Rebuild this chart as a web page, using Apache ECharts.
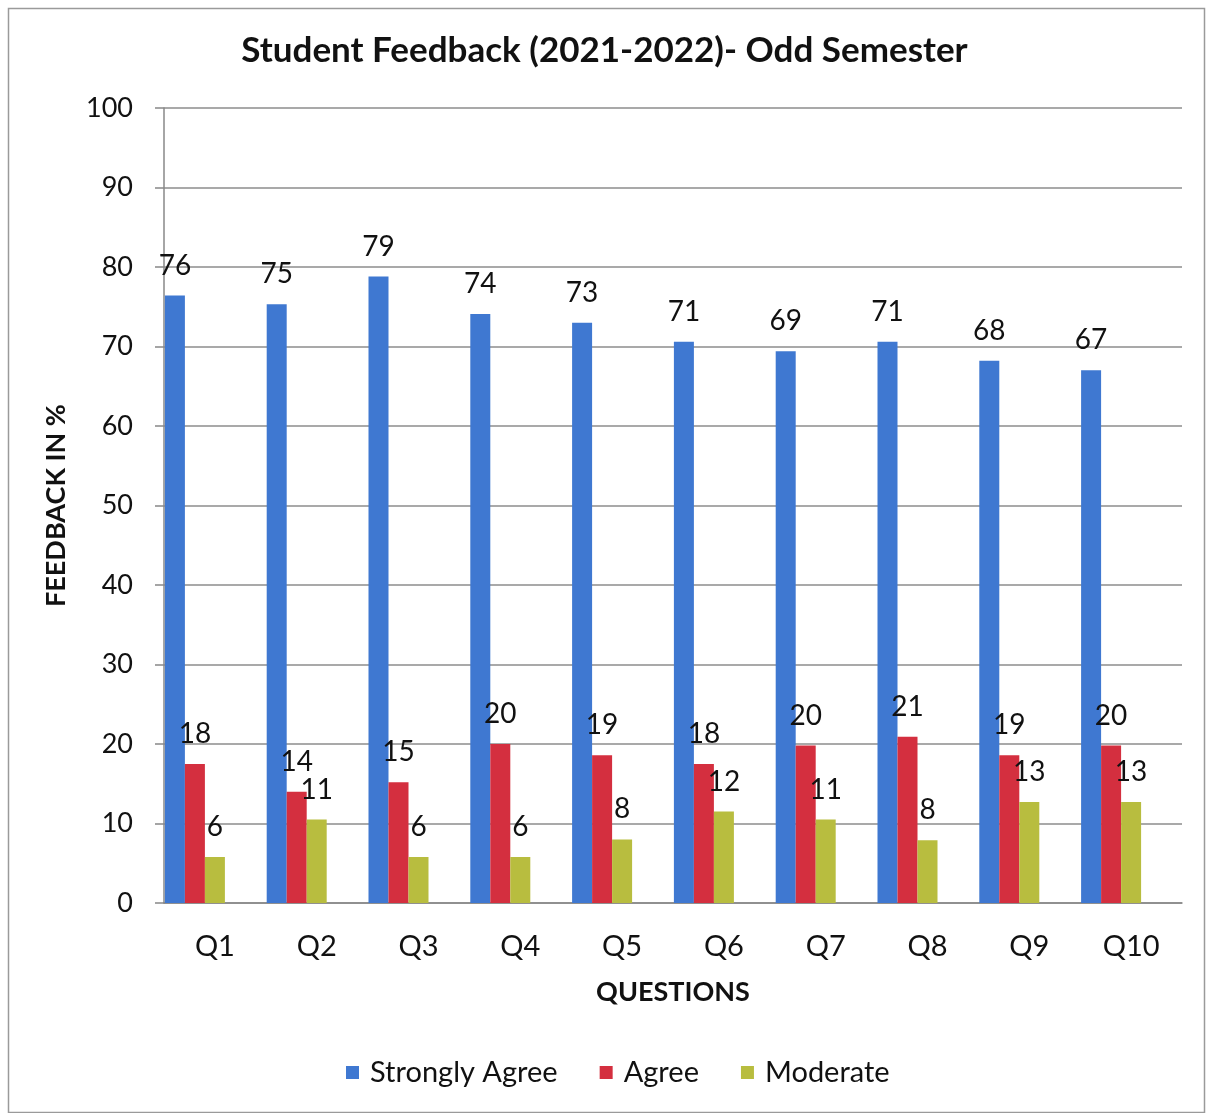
<!DOCTYPE html>
<html>
<head>
<meta charset="utf-8">
<script src="https://cdn.jsdelivr.net/npm/echarts@6/dist/echarts.min.js"></script>
<style>
html,body{margin:0;padding:0;background:#fff;}
#chart{width:1209px;height:1113px;}
</style>
</head>
<body>
<div id="chart"></div>
<script>
var categories = ['Q1','Q2','Q3','Q4','Q5','Q6','Q7','Q8','Q9','Q10'];
var stronglyAgree = [76.4, 75.3, 78.8, 74.1, 73.0, 70.6, 69.4, 70.6, 68.2, 67.0];
var agree = [17.5, 14.0, 15.2, 20.0, 18.6, 17.5, 19.8, 20.9, 18.6, 19.8];
var moderate = [5.8, 10.5, 5.8, 5.8, 8.0, 11.5, 10.5, 7.9, 12.7, 12.7];
var seriesNames = ['Strongly Agree','Agree','Moderate'];
var yTicks = [0,10,20,30,40,50,60,70,80,90,100];

var FONT = 'Lato';
var colors = ['#3f78d1','#d42f3f','#b8bd3f'];

function labelCfg(){
  return {
    show:true, position:'top', distance:16,
    color:'#111', fontFamily:FONT, fontSize:28,
    formatter:function(p){return Math.round(p.value);}
  };
}

var chart = echarts.init(document.getElementById('chart'), null, {renderer:'canvas'});
chart.setOption({
  animation:false,
  backgroundColor:'#fff',
  graphic:[{
    type:'rect', left:6, top:6,
    shape:{width:1196, height:1104},
    style:{fill:'none', stroke:'#9a9a9a', lineWidth:1.5},
    silent:true, z:-1
  }],
  title:{
    text:'Student Feedback (2021-2022)- Odd Semester',
    left:'center', top:28,
    textStyle:{fontFamily:FONT, fontWeight:'bold', fontSize:35, color:'#111'}
  },
  legend:{
    data:seriesNames,
    bottom:21, left:341,
    itemWidth:13, itemHeight:13, itemGap:42,
    icon:'rect',
    textStyle:{fontFamily:FONT, fontSize:29, color:'#111', padding:[0,0,0,6]}
  },
  grid:{left:164, right:27, top:108, bottom:210, containLabel:false},
  xAxis:{
    type:'category', data:categories,
    name:'QUESTIONS', nameLocation:'middle', nameGap:76,
    nameTextStyle:{fontFamily:FONT, fontWeight:'bold', fontSize:27, color:'#111'},
    axisLine:{lineStyle:{color:'#888', width:1.5}},
    axisTick:{show:false},
    axisLabel:{fontFamily:FONT, fontSize:29, color:'#111', margin:29}
  },
  yAxis:{
    type:'value', min:0, max:100, interval:10,
    name:'FEEDBACK IN %', nameLocation:'middle', nameGap:94,
    nameTextStyle:{fontFamily:FONT, fontWeight:'bold', fontSize:27, color:'#111'},
    axisLine:{show:true, lineStyle:{color:'#888', width:1.5}},
    axisTick:{show:true, length:9, lineStyle:{color:'#888', width:1.5}},
    axisLabel:{fontFamily:FONT, fontSize:27, color:'#111', margin:31,
      formatter:function(v){return yTicks.indexOf(v) >= 0 ? String(v) : '';}},
    splitLine:{show:true, lineStyle:{color:'#8c8c8c', width:1.5}}
  },
  series:[
    {name:seriesNames[0], type:'bar', data:stronglyAgree, barWidth:20, barGap:'0%',
      itemStyle:{color:colors[0]}, label:labelCfg()},
    {name:seriesNames[1], type:'bar', data:agree, barWidth:20, barGap:'0%',
      itemStyle:{color:colors[1]}, label:labelCfg()},
    {name:seriesNames[2], type:'bar', data:moderate, barWidth:20, barGap:'0%',
      itemStyle:{color:colors[2]}, label:labelCfg()},
    {name:'_empty1', type:'bar', data:[], barWidth:20, barGap:'0%'},
    {name:'_empty2', type:'bar', data:[], barWidth:20, barGap:'0%'}
  ]
});
</script>
</body>
</html>
